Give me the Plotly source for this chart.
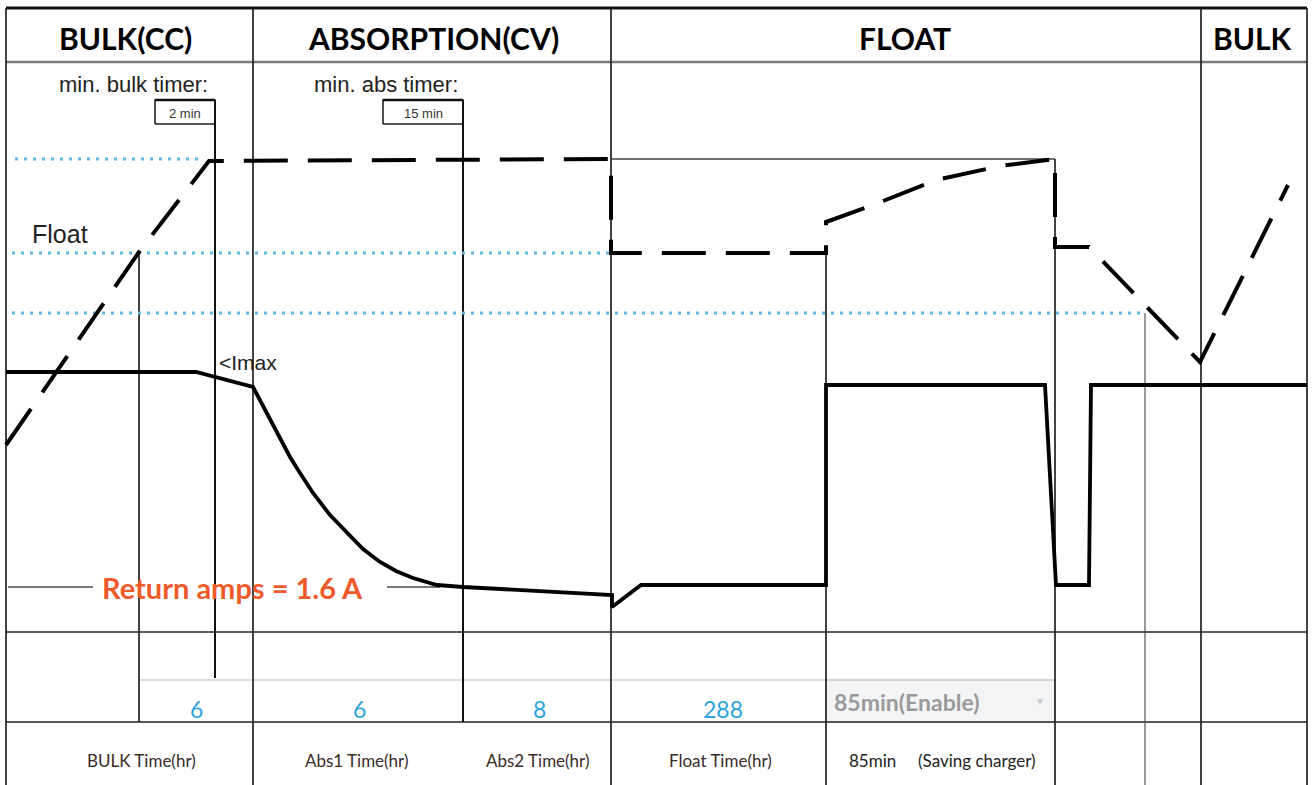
import plotly.graph_objects as go

W, H = 1312, 785

# ---- Stage header row ----
stage_names = ["BULK(CC)", "ABSORPTION(CV)", "FLOAT", "BULK"]
stage_centers = [125, 433, 905, 1252]
stage_edges = [6, 253, 611, 1201, 1307]

# ---- Charging voltage profile (dashed) : time position / level position ----
volt_t = [6, 139, 209, 611, 611, 826, 826, 873, 936, 1000, 1055, 1055, 1089, 1200, 1288]
volt_v = [445, 252, 161, 159, 253, 253, 222, 205, 180, 166, 159, 247, 247, 362, 185]

# ---- Charging current profile (solid) ----
curr_t = [6, 196, 253, 260, 270, 290, 300, 313, 330, 347, 363, 380, 396, 413, 425, 437,
          450, 463, 612, 612, 641, 826, 826, 1045, 1056, 1089, 1091, 1307]
curr_a = [372, 372, 387, 400, 420, 457, 473, 493, 515, 533, 549, 562, 571, 578, 582, 585,
          586, 587, 595, 607, 585, 585, 385, 385, 585, 585, 385, 385]

# ---- Reference levels (dotted blue) : level, start, end ----
ref_levels = [159, 253, 313]
ref_start = [15, 12, 12]
ref_end = [198, 611, 1145]

# ---- Timer markers ----
timer_labels = ["min. bulk timer:", "min. abs timer:"]
timer_label_x = [133, 386]
timer_values = ["2 min", "15 min"]
timer_box_left = [155, 383]
timer_box_right = [215, 463]
timer_line_end = [678, 722]

# ---- Setting table ----
setting_values = ["6", "6", "8", "288"]
setting_value_x = [196, 359, 539, 723]
setting_names = ["BULK Time(hr)", "Abs1 Time(hr)", "Abs2 Time(hr)", "Float Time(hr)"]
setting_name_x = [141, 357, 538, 720]

# ---- Other grid lines (x, y_from, y_to) ----
grid_vertical = [(6, 8, 785), (139, 253, 722), (253, 8, 785), (611, 8, 785),
                 (826, 253, 785), (1055, 159, 785), (1201, 8, 785), (1307, 8, 785)]
grid_horizontal = [(8, 6, 1307), (632, 6, 1307), (722, 6, 1307)]

fig = go.Figure()


def seg_trace(xs, ys, color, width, dash="solid"):
    fig.add_trace(go.Scatter(x=xs, y=ys, mode="lines", hoverinfo="skip",
                             line=dict(color=color, width=width, dash=dash),
                             showlegend=False))


# 85min cell background
fig.add_trace(go.Scatter(x=[826, 1055, 1055, 826, 826], y=[680, 680, 722, 722, 680],
                         mode="lines", fill="toself", fillcolor="#f3f4f6",
                         line=dict(color="#d0d0d0", width=1), hoverinfo="skip",
                         showlegend=False))
# light grey top of input cells
seg_trace([139, 1055], [680, 680], "#cfcfcf", 1.5)

# header separator
seg_trace([6, 1307], [62, 62], "#7a7a7a", 2.5)
# thin grey top line in float
seg_trace([611, 1055], [159, 159], "#707070", 1.8)

# grid lines
gx, gy = [], []
for x, y0, y1 in grid_vertical:
    gx += [x, x, None]
    gy += [y0, y1, None]
for y, x0, x1 in grid_horizontal:
    gx += [x0, x1, None]
    gy += [y, y, None]
seg_trace(gx, gy, "#222222", 1.7)
seg_trace([1145, 1145], [313, 785], "#444444", 1.1)
seg_trace([6, 1307], [8, 8], "#111111", 3)

# timer boxes and lines
for i in range(2):
    l, r = timer_box_left[i], timer_box_right[i]
    seg_trace([l, l, r, r, l], [124, 100, 100, 124, 124], "#222222", 1.6)
    seg_trace([l, r], [100, 100], "#111111", 2.5)
    seg_trace([r, r], [100, timer_line_end[i]], "#111111", 2)
    fig.add_annotation(x=(l + r) / 2, y=113, text=timer_values[i], showarrow=False,
                       font=dict(family="Liberation Sans", size=13, color="#333"))
    fig.add_annotation(x=timer_label_x[i], y=84, text=timer_labels[i], showarrow=False,
                       font=dict(family="Liberation Sans", size=22, color="#222"))

# dotted reference levels
dx, dy = [], []
for lv, s, e in zip(ref_levels, ref_start, ref_end):
    dx += [s, e, None]
    dy += [lv, lv, None]
seg_trace(dx, dy, "#5fb6e4", 3, "3px,6px")

# Return amps grey line
seg_trace([8, 93, None, 387, 440], [587, 587, None, 587, 587], "#777777", 2)

# current and voltage
seg_trace(curr_t, curr_a, "#000000", 3.8)
seg_trace(volt_t, volt_v, "#000000", 4, "44px,20px")

# headers
for name, cx in zip(stage_names, stage_centers):
    fig.add_annotation(x=cx, y=38, text="<b>" + name + "</b>", showarrow=False,
                       font=dict(family="Lato", size=30, color="#000"))

fig.add_annotation(x=60, y=234, text="Float", showarrow=False,
                   font=dict(family="Liberation Sans", size=25, color="#222"))
fig.add_annotation(x=248, y=362, text="&lt;Imax", showarrow=False,
                   font=dict(family="Liberation Sans", size=21, color="#222"))
fig.add_annotation(x=232, y=587, text="<b>Return amps = 1.6 A</b>", showarrow=False,
                   font=dict(family="Lato", size=29, color="#ef5a2a"))

for v, x in zip(setting_values, setting_value_x):
    fig.add_annotation(x=x, y=709, text=v, showarrow=False,
                       font=dict(family="Lato", size=23, color="#2fa3e0"))
for n, x in zip(setting_names, setting_name_x):
    fig.add_annotation(x=x, y=760, text=n, showarrow=False,
                       font=dict(family="Lato", size=17, color="#3a2a2a"))

fig.add_annotation(x=907, y=702, text="<b>85min(Enable)</b>", showarrow=False,
                   font=dict(family="Lato", size=23, color="#9a9a9a"))
fig.add_annotation(x=1040, y=701, text="▾", showarrow=False,
                   font=dict(family="DejaVu Sans", size=11, color="#c8c8c8"))
fig.add_annotation(x=942, y=760, text="85min&nbsp;&nbsp;&nbsp;&nbsp;&nbsp;(Saving charger)",
                   showarrow=False, font=dict(family="Lato", size=17, color="#222"))

fig.update_layout(width=W, height=H, margin=dict(l=0, r=0, t=0, b=0),
                  paper_bgcolor="white", plot_bgcolor="white", showlegend=False)
fig.update_xaxes(range=[0, W], visible=False, fixedrange=True)
fig.update_yaxes(range=[H, 0], visible=False, fixedrange=True)

fig.write_html("out.html", config={"displayModeBar": False},
               post_script="document.body.style.margin='0';document.body.style.overflow='hidden';")
